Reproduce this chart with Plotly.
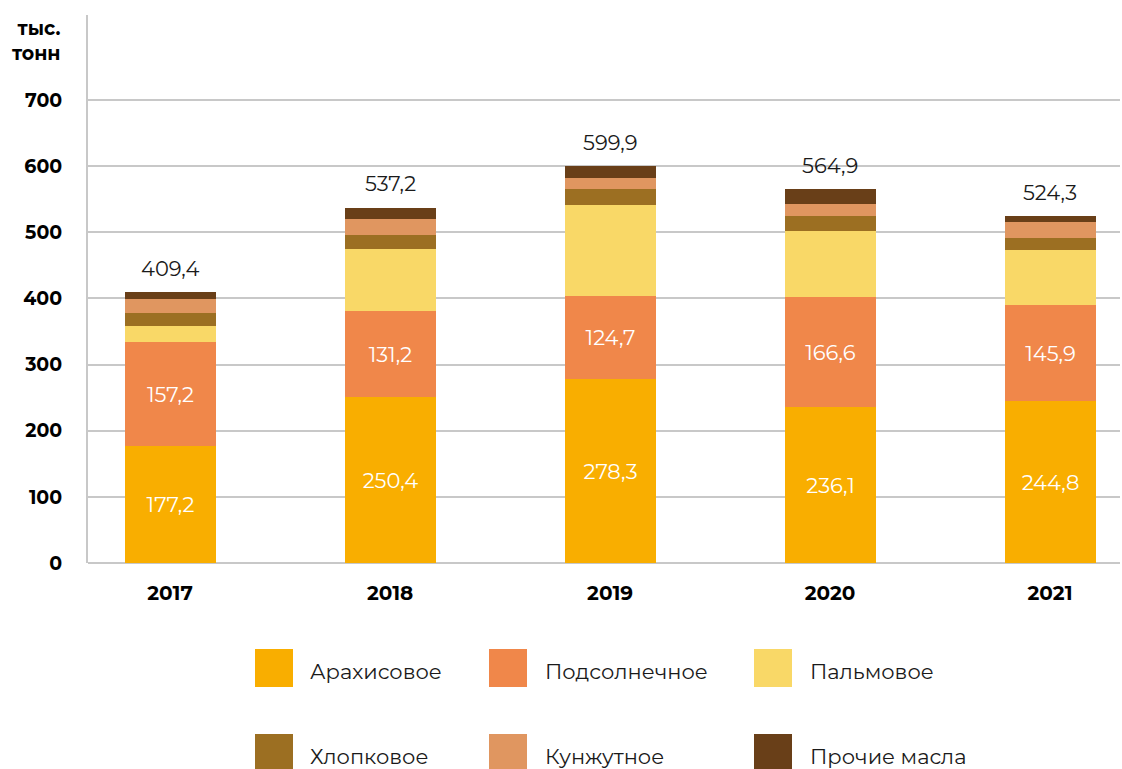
import plotly.graph_objects as go

years = ["2017", "2018", "2019", "2020", "2021"]

series_names = ["Арахисовое", "Подсолнечное", "Пальмовое", "Хлопковое", "Кунжутное", "Прочие масла"]
arachis = [177.2, 250.4, 278.3, 236.1, 244.8]
sunflower = [157.2, 131.2, 124.7, 166.6, 145.9]
palm = [24.0, 93.5, 138.3, 100.0, 83.0]
cotton = [19.5, 20.5, 24.0, 21.2, 17.8]
sesame = [21.0, 25.0, 16.5, 18.2, 23.8]
other = [10.5, 16.6, 18.1, 22.8, 9.0]
totals = [409.4, 537.2, 599.9, 564.9, 524.3]

y_ticks = [0, 100, 200, 300, 400, 500, 600, 700]
unit_label = "тыс.<br>тонн"

colors = ["#F9AE00", "#F0874A", "#F9D867", "#9C6F22", "#E09660", "#693F18"]
series = [arachis, sunflower, palm, cotton, sesame, other]
labelled = [True, True, False, False, False, False]

FONT = "Montserrat, 'DejaVu Sans', sans-serif"


def fmt(v):
    return f"{v:.1f}".replace(".", ",")


fig = go.Figure()
for name, vals, col, lab in zip(series_names, series, colors, labelled):
    fig.add_trace(go.Bar(
        x=years, y=vals, name=name, marker=dict(color=col, line=dict(width=0)),
        width=0.414,
        text=[fmt(v) for v in vals] if lab else None,
        textposition="inside" if lab else "none",
        insidetextanchor="middle",
        textfont=dict(color="white", size=21, family=FONT),
        textangle=0,
        showlegend=False,
        hoverinfo="skip",
    ))

# totals above each column (category index positions)
for i, t in enumerate(totals):
    fig.add_annotation(x=i, y=t, text=fmt(t), showarrow=False, yshift=24,
                       font=dict(size=21, color="#1a1a1a", family=FONT))

# unit caption above the value axis
fig.add_annotation(xref="paper", yref="paper", x=-0.024, y=1.0, xanchor="right", yanchor="top",
                   text="<b>" + unit_label + "</b>", showarrow=False, align="right",
                   font=dict(size=19, color="black", family=FONT), yshift=0)

# legend drawn as swatches + captions in a 3x2 grid
PL, PW, PB, PH = 88, 1032, 563, 548


def px_x(p):
    return (p - PL) / PW


def px_y(p):
    return (PB - p) / PH


leg_cols = [(255, 308), (489, 543), (754, 808)]
leg_rows = [(649, 671), (734, 756)]
for i, (name, col) in enumerate(zip(series_names, colors)):
    r, c = divmod(i, 3)
    sx, tx = leg_cols[c]
    sy, ty = leg_rows[r]
    fig.add_shape(type="rect", xref="paper", yref="paper",
                  x0=px_x(sx), x1=px_x(sx + 38), y0=px_y(sy), y1=px_y(sy + 38),
                  fillcolor=col, line=dict(width=0))
    fig.add_annotation(xref="paper", yref="paper", x=px_x(tx), y=px_y(ty),
                       xanchor="left", yanchor="middle", text=name, showarrow=False,
                       font=dict(size=21, color="#1a1a1a", family=FONT))

fig.update_layout(
    barmode="stack",
    width=1122, height=769,
    margin=dict(l=88, r=2, t=15, b=206),
    plot_bgcolor="white", paper_bgcolor="white",
    font=dict(family=FONT, color="black"),
    bargap=0,
)
fig.update_xaxes(
    type="category",
    range=[-0.373, 4.318], showgrid=False, showline=False, zeroline=False,
    ticks="", tickfont=dict(size=20, family=FONT, color="black", weight="bold"),
    ticklabelstandoff=16,
)
fig.update_yaxes(
    range=[0, 828.5], tickvals=y_ticks, showgrid=True, gridcolor="#C8C8C8", gridwidth=2,
    showline=True, linecolor="#C8C8C8", linewidth=2, zeroline=True, zerolinecolor="#C8C8C8",
    zerolinewidth=2, ticks="",
    tickfont=dict(size=19, family=FONT, color="black", weight="bold"),
    ticklabelstandoff=20,
)

fig.write_html("out.html")
